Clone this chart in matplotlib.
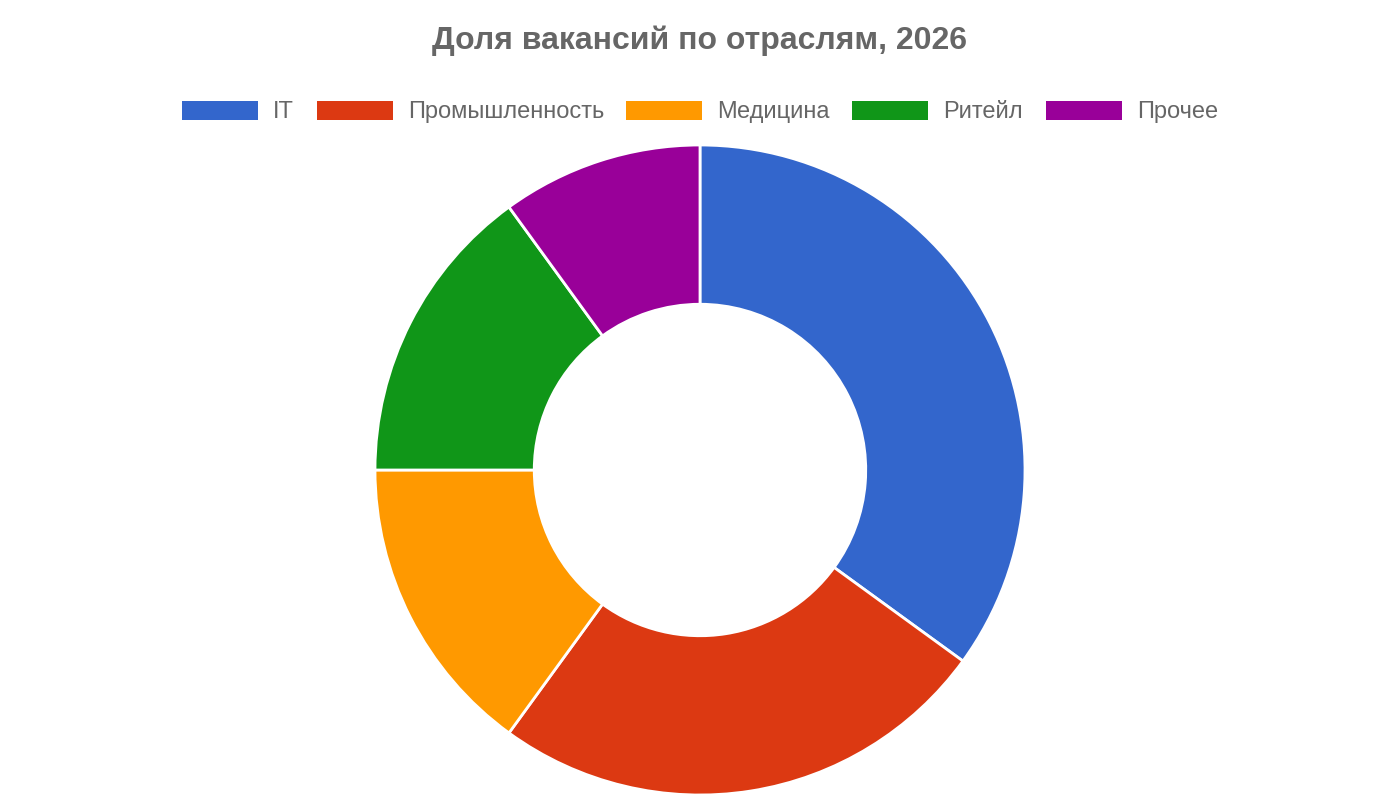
import matplotlib
matplotlib.use("Agg")
import matplotlib.pyplot as plt
from matplotlib.patches import Patch

plt.rcParams['font.family'] = ['Liberation Sans', 'DejaVu Sans']

industries = ["IT", "Промышленность", "Медицина", "Ритейл", "Прочее"]
shares = [35, 25, 15, 15, 10]
colors = ["#3366cc", "#dc3912", "#ff9900", "#109618", "#990099"]

fig = plt.figure(figsize=(14, 8), dpi=100)
fig.patch.set_facecolor("white")

# pie area: centre ~(700,470)px, outer radius ~325px
ax = fig.add_axes([375/1400, 1 - 795/800, 650/1400, 650/800])
ax.pie(shares, colors=colors, startangle=90, counterclock=False,
       radius=1.0,
       wedgeprops=dict(width=0.49, edgecolor="white", linewidth=2))
ax.set_xlim(-1, 1)
ax.set_ylim(-1, 1)
ax.set_aspect("equal")
ax.axis("off")

fig.text(0.5, 1 - 41/800, "Доля вакансий по отраслям, 2026",
         ha="center", va="center", fontsize=23, fontweight="bold",
         color="#666666")

handles = [Patch(facecolor=c, edgecolor="none") for c in colors]
fig.legend(handles, industries, loc="center", ncol=5,
           bbox_to_anchor=(0.5, 1 - 112/800), frameon=False,
           fontsize=17, labelcolor="#666666",
           handlelength=3.22, handleheight=0.85, handletextpad=0.64,
           columnspacing=0.95)

fig.savefig("out.png", dpi=100)
